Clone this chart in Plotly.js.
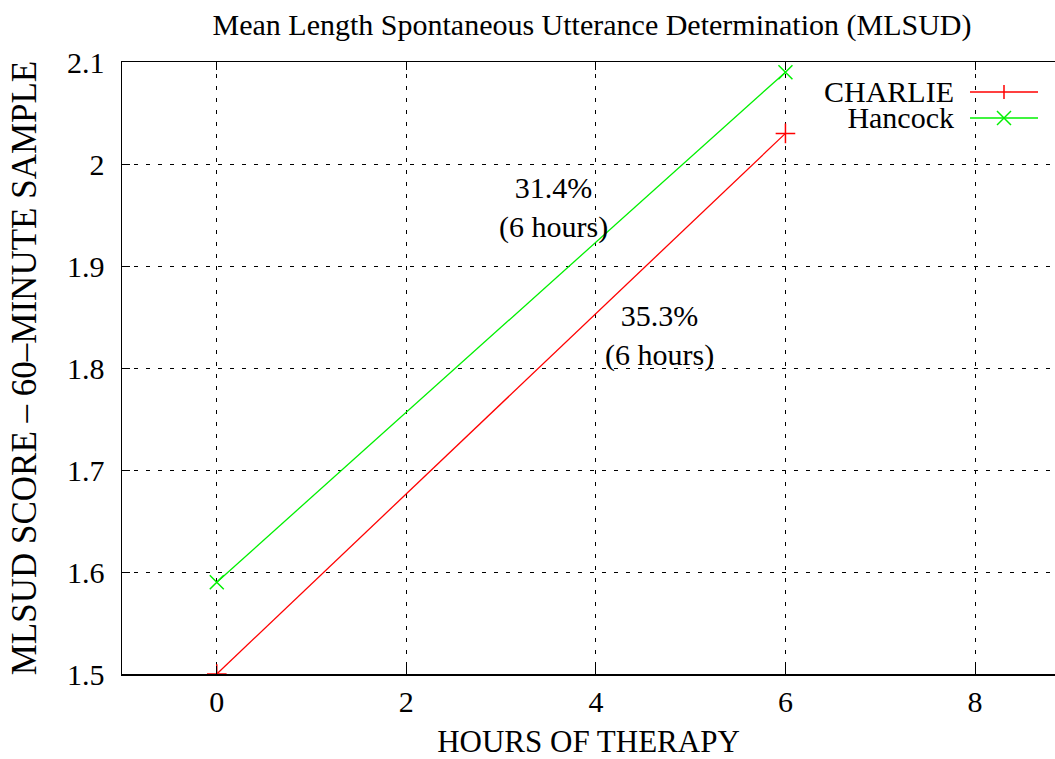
<!DOCTYPE html>
<html>
<head>
<meta charset="utf-8">
<script src="https://cdn.plot.ly/plotly-3.0.1.min.js"></script>
<style>html,body{margin:0;padding:0;background:#fff;}#chart{width:1055px;height:759px;}</style>
</head>
<body>
<div id="chart"></div>
<script>
const hours = [0, 6];
const charlie = [1.5, 2.03];
const hancock = [1.59, 2.09];
const seriesNames = ["CHARLIE", "Hancock"];
const notes = [
  {x: 3.55, y: 1.957, text: "31.4%<br>(6 hours)"},
  {x: 4.67, y: 1.832, text: "35.3%<br>(6 hours)"}
];
const yTicks = [1.5, 1.6, 1.7, 1.8, 1.9, 2.0, 2.1];
const yTickText = ["1.5", "1.6", "1.7", "1.8", "1.9", "2", "2.1"];
const xTicks = [0, 2, 4, 6, 8];

const FONT = "Liberation Serif, Times New Roman, serif";
const RED = "#ff0000", GREEN = "#00f000";

const traces = [
  {x: hours, y: charlie, name: seriesNames[0], mode: "lines+markers", type: "scatter",
   line: {color: RED, width: 1.3},
   marker: {symbol: "cross-thin", size: 14, line: {color: RED, width: 1.5}, color: RED}},
  {x: hours, y: hancock, name: seriesNames[1], mode: "lines+markers", type: "scatter",
   line: {color: GREEN, width: 1.3},
   marker: {symbol: "x-thin", size: 14, line: {color: GREEN, width: 1.5}, color: GREEN}}
];

const legColors = [RED, GREEN];
const shapes = [];
const annotations = notes.map(n => ({
  x: n.x, y: n.y, xref: "x", yref: "y", text: n.text, showarrow: false,
  font: {family: FONT, size: 30, color: "#000"}, align: "center"
}));
const pw = 1055 - 122, ph = 674 - 62;
function px(xp){ return (xp - 122) / pw; }
function py(yp){ return (674 - yp) / ph; }
// gnuplot-style key: names right-aligned in one block with tight line spacing
annotations.push({x: px(956), y: py(105), xref: "paper", yref: "paper", xanchor: "right", yanchor: "middle", align: "right",
  text: seriesNames.map(s => '<span style="font-size:30px">' + s + '</span>').join("<br>"),
  showarrow: false, font: {family: FONT, size: 20, color: "#000"}});
[92, 118].forEach((yp, i) => {
  shapes.push({type: "line", xref: "paper", yref: "paper", x0: px(970), x1: px(1038), y0: py(yp), y1: py(yp),
    line: {color: legColors[i], width: 1.3}});
  if (i === 0) {
    shapes.push({type: "line", xref: "paper", yref: "paper", x0: px(1004), x1: px(1004), y0: py(yp-7), y1: py(yp+7), line: {color: RED, width: 1.5}});
  } else {
    shapes.push({type: "line", xref: "paper", yref: "paper", x0: px(997), x1: px(1011), y0: py(yp-7), y1: py(yp+7), line: {color: GREEN, width: 1.5}});
    shapes.push({type: "line", xref: "paper", yref: "paper", x0: px(997), x1: px(1011), y0: py(yp+7), y1: py(yp-7), line: {color: GREEN, width: 1.5}});
  }
});

const layout = {
  width: 1055, height: 759,
  margin: {l: 122, r: 0, t: 62, b: 85, pad: 0},
  paper_bgcolor: "#fff", plot_bgcolor: "#fff",
  showlegend: false,
  font: {family: FONT, size: 30, color: "#000"},
  title: {text: "Mean Length Spontaneous Utterance Determination (MLSUD)", font: {family: FONT, size: 30, color: "#000"},
          x: 592/1055, xref: "container", xanchor: "center", y: 1 - 24/759, yref: "container", yanchor: "middle"},
  xaxis: {range: [-1, 8.844], tickvals: xTicks, ticktext: xTicks.map(String), ticks: "inside", ticklen: 8, tickcolor: "#000",
          showline: true, linecolor: "#000", linewidth: 1.5, mirror: "ticks",
          showgrid: true, gridcolor: "#000", gridwidth: 1, griddash: "4px,8px", zeroline: false,
          tickfont: {family: FONT, size: 30, color: "#000"},
          title: {text: "HOURS OF THERAPY", font: {family: FONT, size: 31, color: "#000"}, standoff: 16}},
  yaxis: {range: [1.5, 2.1], tickvals: yTicks, ticktext: yTickText, ticks: "inside", ticklen: 8, tickcolor: "#000",
          showline: true, linecolor: "#000", linewidth: 1.5, mirror: false, ticklabelstandoff: 10,
          showgrid: true, gridcolor: "#000", gridwidth: 1, griddash: "4px,8px", zeroline: false,
          tickfont: {family: FONT, size: 30, color: "#000"},
          title: {text: "MLSUD SCORE \u2013 60\u2013MINUTE SAMPLE", font: {family: FONT, size: 35, color: "#000"}, standoff: 20}},
  annotations: annotations,
  shapes: shapes
};

Plotly.newPlot("chart", traces, layout, {displayModeBar: false, staticPlot: true});
</script>
</body>
</html>
